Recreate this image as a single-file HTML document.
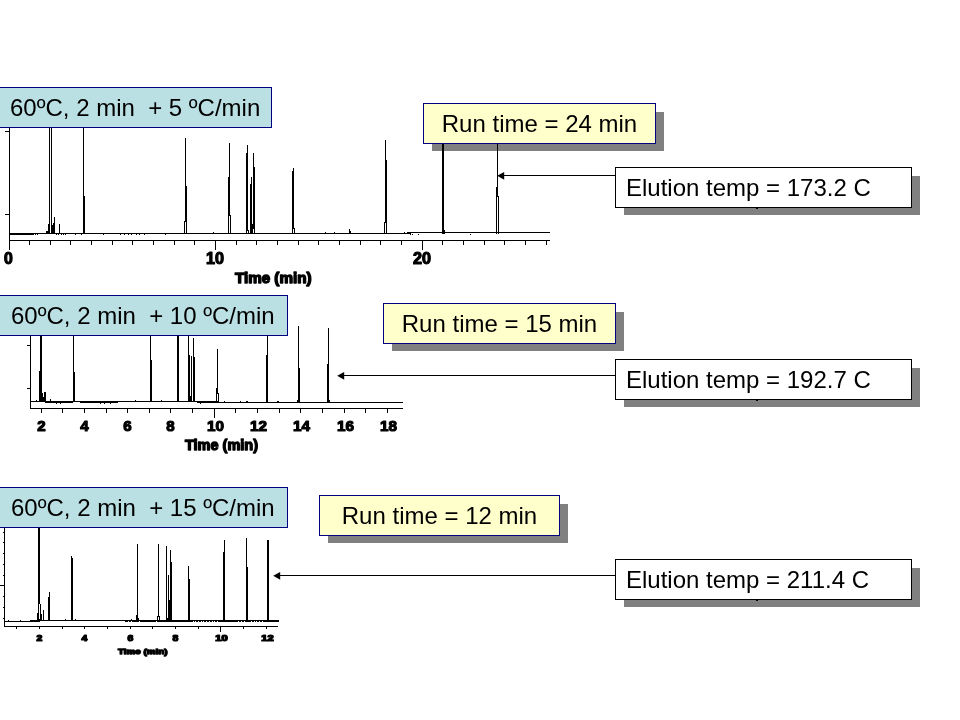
<!DOCTYPE html>
<html><head><meta charset="utf-8"><title>Temperature program comparison</title>
<style>
html,body{margin:0;padding:0;background:#fff;}
body{width:960px;height:720px;position:relative;overflow:hidden;font-family:"Liberation Sans",sans-serif;color:#000;}
.b{position:absolute;box-sizing:border-box;height:41px;font-size:24px;line-height:39px;white-space:pre;}
.lbl{background:#bbe0e3;border:1px solid #000080;padding-left:11px;left:-2px;}
.run{background:#ffffcc;border:1px solid #000080;text-align:center;width:233px;}
.elu{background:#fff;border:1px solid #000;padding-left:10px;width:297px;left:615px;}
.sh{position:absolute;background:#808080;height:39px;}
svg{position:absolute;left:0;top:0;}
svg text{font-family:"Liberation Sans",sans-serif;font-weight:bold;fill:#000;stroke:#000;stroke-width:1.2px;stroke-linejoin:round;text-anchor:middle;}
</style></head><body>
<div class="sh" style="left:432px;top:112px;width:232px;"></div>
<div class="sh" style="left:392px;top:312px;width:232px;"></div>
<div class="sh" style="left:328px;top:504px;width:240px;"></div>
<div class="sh" style="left:624px;top:176px;width:296px;"></div>
<div class="sh" style="left:624px;top:368px;width:296px;"></div>
<div class="sh" style="left:624px;top:568px;width:296px;"></div>
<svg width="960" height="720" viewBox="0 0 960 720" shape-rendering="crispEdges">
<g id="chrom1">
<rect x="9" y="127" width="1" height="114"/>
<rect x="9" y="240" width="541" height="1"/>
<rect x="9" y="233" width="402" height="1"/>
<rect x="408" y="232" width="142" height="1"/>
<rect x="9" y="234" width="25" height="1"/>
<rect x="5" y="131" width="4" height="1"/>
<rect x="5" y="214" width="4" height="1"/>
<rect x="9" y="241" width="1" height="9"/>
<rect x="29" y="241" width="1" height="4"/>
<rect x="50" y="241" width="1" height="4"/>
<rect x="70" y="241" width="1" height="4"/>
<rect x="91" y="241" width="1" height="4"/>
<rect x="112" y="241" width="1" height="4"/>
<rect x="132" y="241" width="1" height="4"/>
<rect x="153" y="241" width="1" height="4"/>
<rect x="174" y="241" width="1" height="4"/>
<rect x="194" y="241" width="1" height="4"/>
<rect x="215" y="241" width="1" height="9"/>
<rect x="236" y="241" width="1" height="4"/>
<rect x="256" y="241" width="1" height="4"/>
<rect x="277" y="241" width="1" height="4"/>
<rect x="298" y="241" width="1" height="4"/>
<rect x="318" y="241" width="1" height="4"/>
<rect x="339" y="241" width="1" height="4"/>
<rect x="360" y="241" width="1" height="4"/>
<rect x="380" y="241" width="1" height="4"/>
<rect x="401" y="241" width="1" height="4"/>
<rect x="422" y="241" width="1" height="9"/>
<rect x="442" y="241" width="1" height="4"/>
<rect x="463" y="241" width="1" height="4"/>
<rect x="484" y="241" width="1" height="4"/>
<rect x="504" y="241" width="1" height="4"/>
<rect x="525" y="241" width="1" height="4"/>
<rect x="546" y="241" width="1" height="4"/>
<rect x="49" y="127" width="1" height="107"/>
<rect x="51" y="127" width="1" height="107"/>
<rect x="48" y="224" width="1" height="10"/>
<rect x="52" y="225" width="1" height="9"/>
<rect x="54" y="217" width="1" height="17"/>
<rect x="53" y="223" width="1" height="11"/>
<rect x="59" y="224" width="1" height="10"/>
<rect x="46" y="231" width="1" height="3"/>
<rect x="47" y="231" width="1" height="3"/>
<rect x="83" y="127" width="1" height="107"/>
<rect x="84" y="196" width="1" height="38"/>
<rect x="251" y="177" width="1" height="57"/>
<rect x="250" y="184" width="1" height="50"/>
<rect x="252" y="224" width="1" height="10"/>
<rect x="349" y="229" width="1" height="5"/>
<rect x="350" y="231" width="1" height="3"/>
<rect x="442" y="143" width="2" height="91"/>
<rect x="444" y="230" width="1" height="4"/>
<rect x="185" y="138" width="1" height="84"/>
<rect x="186" y="186" width="1" height="48"/>
<rect x="184" y="221" width="1" height="13"/>
<rect x="229" y="143" width="1" height="73"/>
<rect x="228" y="177" width="1" height="57"/>
<rect x="230" y="215" width="1" height="19"/>
<rect x="247" y="145" width="1" height="86"/>
<rect x="246" y="153" width="1" height="81"/>
<rect x="248" y="230" width="1" height="4"/>
<rect x="253" y="153" width="1" height="76"/>
<rect x="254" y="167" width="1" height="67"/>
<rect x="252" y="228" width="1" height="6"/>
<rect x="293" y="168" width="1" height="61"/>
<rect x="292" y="171" width="1" height="63"/>
<rect x="294" y="228" width="1" height="6"/>
<rect x="385" y="140" width="1" height="83"/>
<rect x="386" y="160" width="1" height="74"/>
<rect x="384" y="222" width="1" height="12"/>
<rect x="497" y="143" width="1" height="54"/>
<rect x="496" y="187" width="1" height="47"/>
<rect x="498" y="196" width="1" height="38"/>
<rect x="498" y="196" width="1" height="38"/>
<rect x="35" y="234" width="1" height="1"/>
<rect x="37" y="234" width="1" height="1"/>
<rect x="56" y="234" width="1" height="1"/>
<rect x="58" y="234" width="1" height="1"/>
<rect x="61" y="234" width="1" height="1"/>
<rect x="63" y="234" width="1" height="1"/>
<rect x="65" y="234" width="1" height="1"/>
<rect x="75" y="234" width="1" height="1"/>
<rect x="81" y="234" width="1" height="1"/>
<rect x="103" y="234" width="1" height="1"/>
<rect x="120" y="234" width="1" height="1"/>
<rect x="124" y="234" width="1" height="1"/>
<rect x="128" y="234" width="1" height="1"/>
<rect x="131" y="234" width="1" height="1"/>
<rect x="136" y="234" width="1" height="1"/>
<rect x="139" y="234" width="1" height="1"/>
<rect x="144" y="234" width="1" height="1"/>
<rect x="165" y="234" width="1" height="1"/>
<rect x="410" y="234" width="1" height="1"/>
<rect x="412" y="234" width="1" height="1"/>
<rect x="418" y="234" width="1" height="1"/>
<rect x="470" y="234" width="1" height="1"/>
<rect x="213" y="232" width="1" height="1"/>
<rect x="325" y="232" width="1" height="1"/>
<rect x="334" y="232" width="1" height="1"/>
<rect x="404" y="232" width="1" height="1"/>
<rect x="407" y="232" width="1" height="1"/>
<text x="8.5" y="264.1" font-size="16.5" textLength="8.8" lengthAdjust="spacingAndGlyphs">0</text>
<text x="215" y="264.1" font-size="16.5" textLength="18" lengthAdjust="spacingAndGlyphs">10</text>
<text x="422" y="264.1" font-size="16.5" textLength="18" lengthAdjust="spacingAndGlyphs">20</text>
<text x="273.2" y="283" font-size="15" textLength="76.6" lengthAdjust="spacingAndGlyphs" style="stroke-width:1.4px">Time (min)</text>
</g>
<g id="chrom2">
<rect x="30" y="335" width="1" height="74"/>
<rect x="30" y="408" width="373" height="1"/>
<rect x="30" y="401" width="188" height="1"/>
<rect x="45" y="402" width="28" height="1"/>
<rect x="80" y="402" width="38" height="1"/>
<rect x="197" y="402" width="206" height="1"/>
<rect x="27" y="345" width="3" height="1"/>
<rect x="27" y="388" width="3" height="1"/>
<rect x="41" y="409" width="1" height="4"/>
<rect x="62" y="409" width="1" height="4"/>
<rect x="84" y="409" width="1" height="4"/>
<rect x="106" y="409" width="1" height="4"/>
<rect x="127" y="409" width="1" height="4"/>
<rect x="149" y="409" width="1" height="4"/>
<rect x="170" y="409" width="1" height="4"/>
<rect x="192" y="409" width="1" height="4"/>
<rect x="214" y="409" width="1" height="9"/>
<rect x="235" y="409" width="1" height="4"/>
<rect x="257" y="409" width="1" height="4"/>
<rect x="279" y="409" width="1" height="4"/>
<rect x="300" y="409" width="1" height="4"/>
<rect x="322" y="409" width="1" height="4"/>
<rect x="344" y="409" width="1" height="4"/>
<rect x="365" y="409" width="1" height="4"/>
<rect x="387" y="409" width="1" height="4"/>
<rect x="40" y="335" width="2" height="67"/>
<rect x="39" y="371" width="1" height="31"/>
<rect x="42" y="393" width="1" height="9"/>
<rect x="43" y="397" width="1" height="5"/>
<rect x="44" y="392" width="2" height="10"/>
<rect x="50" y="399" width="1" height="3"/>
<rect x="73" y="335" width="1" height="67"/>
<rect x="74" y="372" width="1" height="30"/>
<rect x="150" y="335" width="1" height="67"/>
<rect x="151" y="360" width="1" height="42"/>
<rect x="177" y="335" width="2" height="67"/>
<rect x="188" y="335" width="1" height="67"/>
<rect x="189" y="355" width="1" height="47"/>
<rect x="191" y="356" width="1" height="46"/>
<rect x="193" y="338" width="1" height="64"/>
<rect x="194" y="357" width="1" height="45"/>
<rect x="190" y="396" width="1" height="6"/>
<rect x="217" y="349" width="1" height="54"/>
<rect x="216" y="388" width="1" height="15"/>
<rect x="218" y="393" width="1" height="10"/>
<rect x="267" y="335" width="1" height="68"/>
<rect x="266" y="355" width="1" height="48"/>
<rect x="298" y="326" width="1" height="77"/>
<rect x="299" y="368" width="1" height="35"/>
<rect x="297" y="400" width="1" height="3"/>
<rect x="328" y="328" width="1" height="75"/>
<rect x="327" y="364" width="1" height="39"/>
<rect x="329" y="400" width="1" height="3"/>
<rect x="217" y="394" width="1" height="7" fill="#fff"/>
<rect x="36" y="400" width="1" height="1"/>
<rect x="135" y="400" width="1" height="1"/>
<rect x="161" y="400" width="1" height="1"/>
<rect x="224" y="401" width="1" height="1"/>
<rect x="240" y="401" width="1" height="1"/>
<rect x="246" y="401" width="1" height="1"/>
<rect x="247" y="401" width="1" height="1"/>
<rect x="277" y="401" width="1" height="1"/>
<rect x="278" y="401" width="1" height="1"/>
<rect x="56" y="403" width="1" height="1"/>
<rect x="60" y="403" width="1" height="1"/>
<rect x="100" y="403" width="1" height="1"/>
<rect x="104" y="403" width="1" height="1"/>
<rect x="110" y="403" width="1" height="1"/>
<rect x="200" y="403" width="1" height="1"/>
<text x="41.5" y="431.3" font-size="15.5" textLength="8.4" lengthAdjust="spacingAndGlyphs">2</text>
<text x="84.5" y="431.3" font-size="15.5" textLength="8.4" lengthAdjust="spacingAndGlyphs">4</text>
<text x="127.5" y="431.3" font-size="15.5" textLength="8.4" lengthAdjust="spacingAndGlyphs">6</text>
<text x="170.5" y="431.3" font-size="15.5" textLength="8.4" lengthAdjust="spacingAndGlyphs">8</text>
<text x="215.5" y="431.3" font-size="15.5" textLength="17" lengthAdjust="spacingAndGlyphs">10</text>
<text x="258.5" y="431.3" font-size="15.5" textLength="17" lengthAdjust="spacingAndGlyphs">12</text>
<text x="301.5" y="431.3" font-size="15.5" textLength="17" lengthAdjust="spacingAndGlyphs">14</text>
<text x="345.5" y="431.3" font-size="15.5" textLength="17" lengthAdjust="spacingAndGlyphs">16</text>
<text x="388.5" y="431.3" font-size="15.5" textLength="17" lengthAdjust="spacingAndGlyphs">18</text>
<text x="221.5" y="450" font-size="14" textLength="73" lengthAdjust="spacingAndGlyphs" style="stroke-width:1.3px">Time (min)</text>
</g>
<g id="chrom3">
<rect x="4" y="527" width="1" height="100"/>
<rect x="4" y="626" width="274" height="1"/>
<rect x="4" y="621" width="36" height="1"/>
<rect x="39" y="620" width="240" height="1"/>
<rect x="125" y="621" width="154" height="1"/>
<rect x="0" y="585" width="4" height="1"/>
<rect x="3" y="532" width="1" height="1"/>
<rect x="3" y="542" width="1" height="1"/>
<rect x="3" y="553" width="1" height="1"/>
<rect x="3" y="564" width="1" height="1"/>
<rect x="3" y="575" width="1" height="1"/>
<rect x="3" y="596" width="1" height="1"/>
<rect x="3" y="607" width="1" height="1"/>
<rect x="3" y="618" width="1" height="1"/>
<rect x="16" y="627" width="1" height="2"/>
<rect x="39" y="627" width="1" height="2"/>
<rect x="62" y="627" width="1" height="2"/>
<rect x="84" y="627" width="1" height="2"/>
<rect x="107" y="627" width="1" height="2"/>
<rect x="130" y="627" width="1" height="2"/>
<rect x="152" y="627" width="1" height="2"/>
<rect x="175" y="627" width="1" height="2"/>
<rect x="198" y="627" width="1" height="2"/>
<rect x="220" y="627" width="1" height="5"/>
<rect x="243" y="627" width="1" height="2"/>
<rect x="266" y="627" width="1" height="2"/>
<rect x="38" y="527" width="2" height="94"/>
<rect x="40" y="604" width="1" height="17"/>
<rect x="41" y="614" width="1" height="7"/>
<rect x="43" y="610" width="1" height="11"/>
<rect x="37" y="613" width="1" height="8"/>
<rect x="49" y="592" width="1" height="29"/>
<rect x="48" y="597" width="1" height="24"/>
<rect x="71" y="556" width="1" height="65"/>
<rect x="72" y="558" width="1" height="63"/>
<rect x="137" y="544" width="1" height="77"/>
<rect x="136" y="615" width="1" height="6"/>
<rect x="138" y="618" width="1" height="3"/>
<rect x="158" y="544" width="1" height="77"/>
<rect x="157" y="616" width="1" height="5"/>
<rect x="159" y="616" width="1" height="5"/>
<rect x="166" y="546" width="1" height="75"/>
<rect x="168" y="575" width="1" height="46"/>
<rect x="170" y="550" width="1" height="71"/>
<rect x="171" y="562" width="1" height="59"/>
<rect x="169" y="600" width="1" height="21"/>
<rect x="167" y="618" width="1" height="3"/>
<rect x="188" y="566" width="1" height="55"/>
<rect x="189" y="579" width="1" height="42"/>
<rect x="224" y="540" width="1" height="81"/>
<rect x="223" y="552" width="1" height="69"/>
<rect x="246" y="538" width="1" height="83"/>
<rect x="247" y="567" width="1" height="54"/>
<rect x="267" y="540" width="2" height="81"/>
<rect x="158" y="617" width="1" height="3" fill="#fff"/>
<rect x="39" y="604" width="1" height="15" fill="#fff"/>
<rect x="30" y="620" width="9" height="1"/>
<rect x="8" y="620" width="1" height="1"/>
<rect x="20" y="620" width="1" height="1"/>
<rect x="65" y="619" width="1" height="1"/>
<rect x="75" y="619" width="1" height="1"/>
<rect x="131" y="619" width="1" height="1"/>
<rect x="128" y="621" width="1" height="1" fill="#fff"/>
<rect x="131" y="621" width="1" height="1" fill="#fff"/>
<rect x="139" y="621" width="1" height="1" fill="#fff"/>
<rect x="156" y="621" width="1" height="1" fill="#fff"/>
<rect x="193" y="621" width="1" height="1" fill="#fff"/>
<rect x="195" y="621" width="1" height="1" fill="#fff"/>
<rect x="198" y="621" width="1" height="1" fill="#fff"/>
<rect x="201" y="621" width="1" height="1" fill="#fff"/>
<rect x="203" y="621" width="1" height="1" fill="#fff"/>
<rect x="206" y="621" width="1" height="1" fill="#fff"/>
<rect x="209" y="621" width="1" height="1" fill="#fff"/>
<rect x="212" y="621" width="1" height="1" fill="#fff"/>
<rect x="214" y="621" width="1" height="1" fill="#fff"/>
<rect x="217" y="621" width="1" height="1" fill="#fff"/>
<rect x="238" y="621" width="1" height="1" fill="#fff"/>
<rect x="241" y="621" width="1" height="1" fill="#fff"/>
<rect x="244" y="621" width="1" height="1" fill="#fff"/>
<rect x="251" y="621" width="1" height="1" fill="#fff"/>
<rect x="254" y="621" width="1" height="1" fill="#fff"/>
<rect x="256" y="621" width="1" height="1" fill="#fff"/>
<rect x="259" y="621" width="1" height="1" fill="#fff"/>
<rect x="262" y="621" width="1" height="1" fill="#fff"/>
<text x="39.5" y="641.3" font-size="8.3" textLength="5.8" lengthAdjust="spacingAndGlyphs">2</text>
<text x="84.5" y="641.3" font-size="8.3" textLength="5.8" lengthAdjust="spacingAndGlyphs">4</text>
<text x="130.5" y="641.3" font-size="8.3" textLength="5.8" lengthAdjust="spacingAndGlyphs">6</text>
<text x="175.5" y="641.3" font-size="8.3" textLength="5.8" lengthAdjust="spacingAndGlyphs">8</text>
<text x="221.5" y="641.3" font-size="8.3" textLength="12.4" lengthAdjust="spacingAndGlyphs">10</text>
<text x="267.5" y="641.3" font-size="8.3" textLength="12.4" lengthAdjust="spacingAndGlyphs">12</text>
<text x="142.8" y="653.9" font-size="7.8" textLength="49.5" lengthAdjust="spacingAndGlyphs" style="stroke-width:1.3px">Time (min)</text>
</g>
<g id="arrows">
<rect x="500" y="175" width="116" height="1"/>
<polygon shape-rendering="geometricPrecision" points="497.2,175.8 504.2,172 504.2,179.8"/>
<rect x="340" y="375" width="276" height="1"/>
<polygon shape-rendering="geometricPrecision" points="337.2,375.8 344.2,372 344.2,379.8"/>
<rect x="276" y="575" width="340" height="1"/>
<polygon shape-rendering="geometricPrecision" points="273.2,575.8 280.2,572 280.2,579.8"/>
<rect x="756" y="208" width="2" height="1"/>
<rect x="756" y="400" width="2" height="1"/>
<rect x="756" y="600" width="2" height="1"/>
</g>
</svg>
<div class="b run" style="left:423px;top:103px;">Run time = 24 min</div>
<div class="b run" style="left:383px;top:303px;">Run time = 15 min</div>
<div class="b run" style="left:319px;top:495px;width:241px;">Run time = 12 min</div>
<div class="b elu" style="top:167px;">Elution temp = 173.2 C</div>
<div class="b elu" style="top:359px;">Elution temp = 192.7 C</div>
<div class="b elu" style="top:559px;">Elution temp = 211.4 C</div>
<div class="b lbl" style="top:87px;width:274px;">60ºC, 2 min  + 5 ºC/min</div>
<div class="b lbl" style="top:295px;width:290px;padding-left:12px;">60ºC, 2 min  + 10 ºC/min</div>
<div class="b lbl" style="top:487px;width:290px;padding-left:12px;">60ºC, 2 min  + 15 ºC/min</div>
</body></html>
